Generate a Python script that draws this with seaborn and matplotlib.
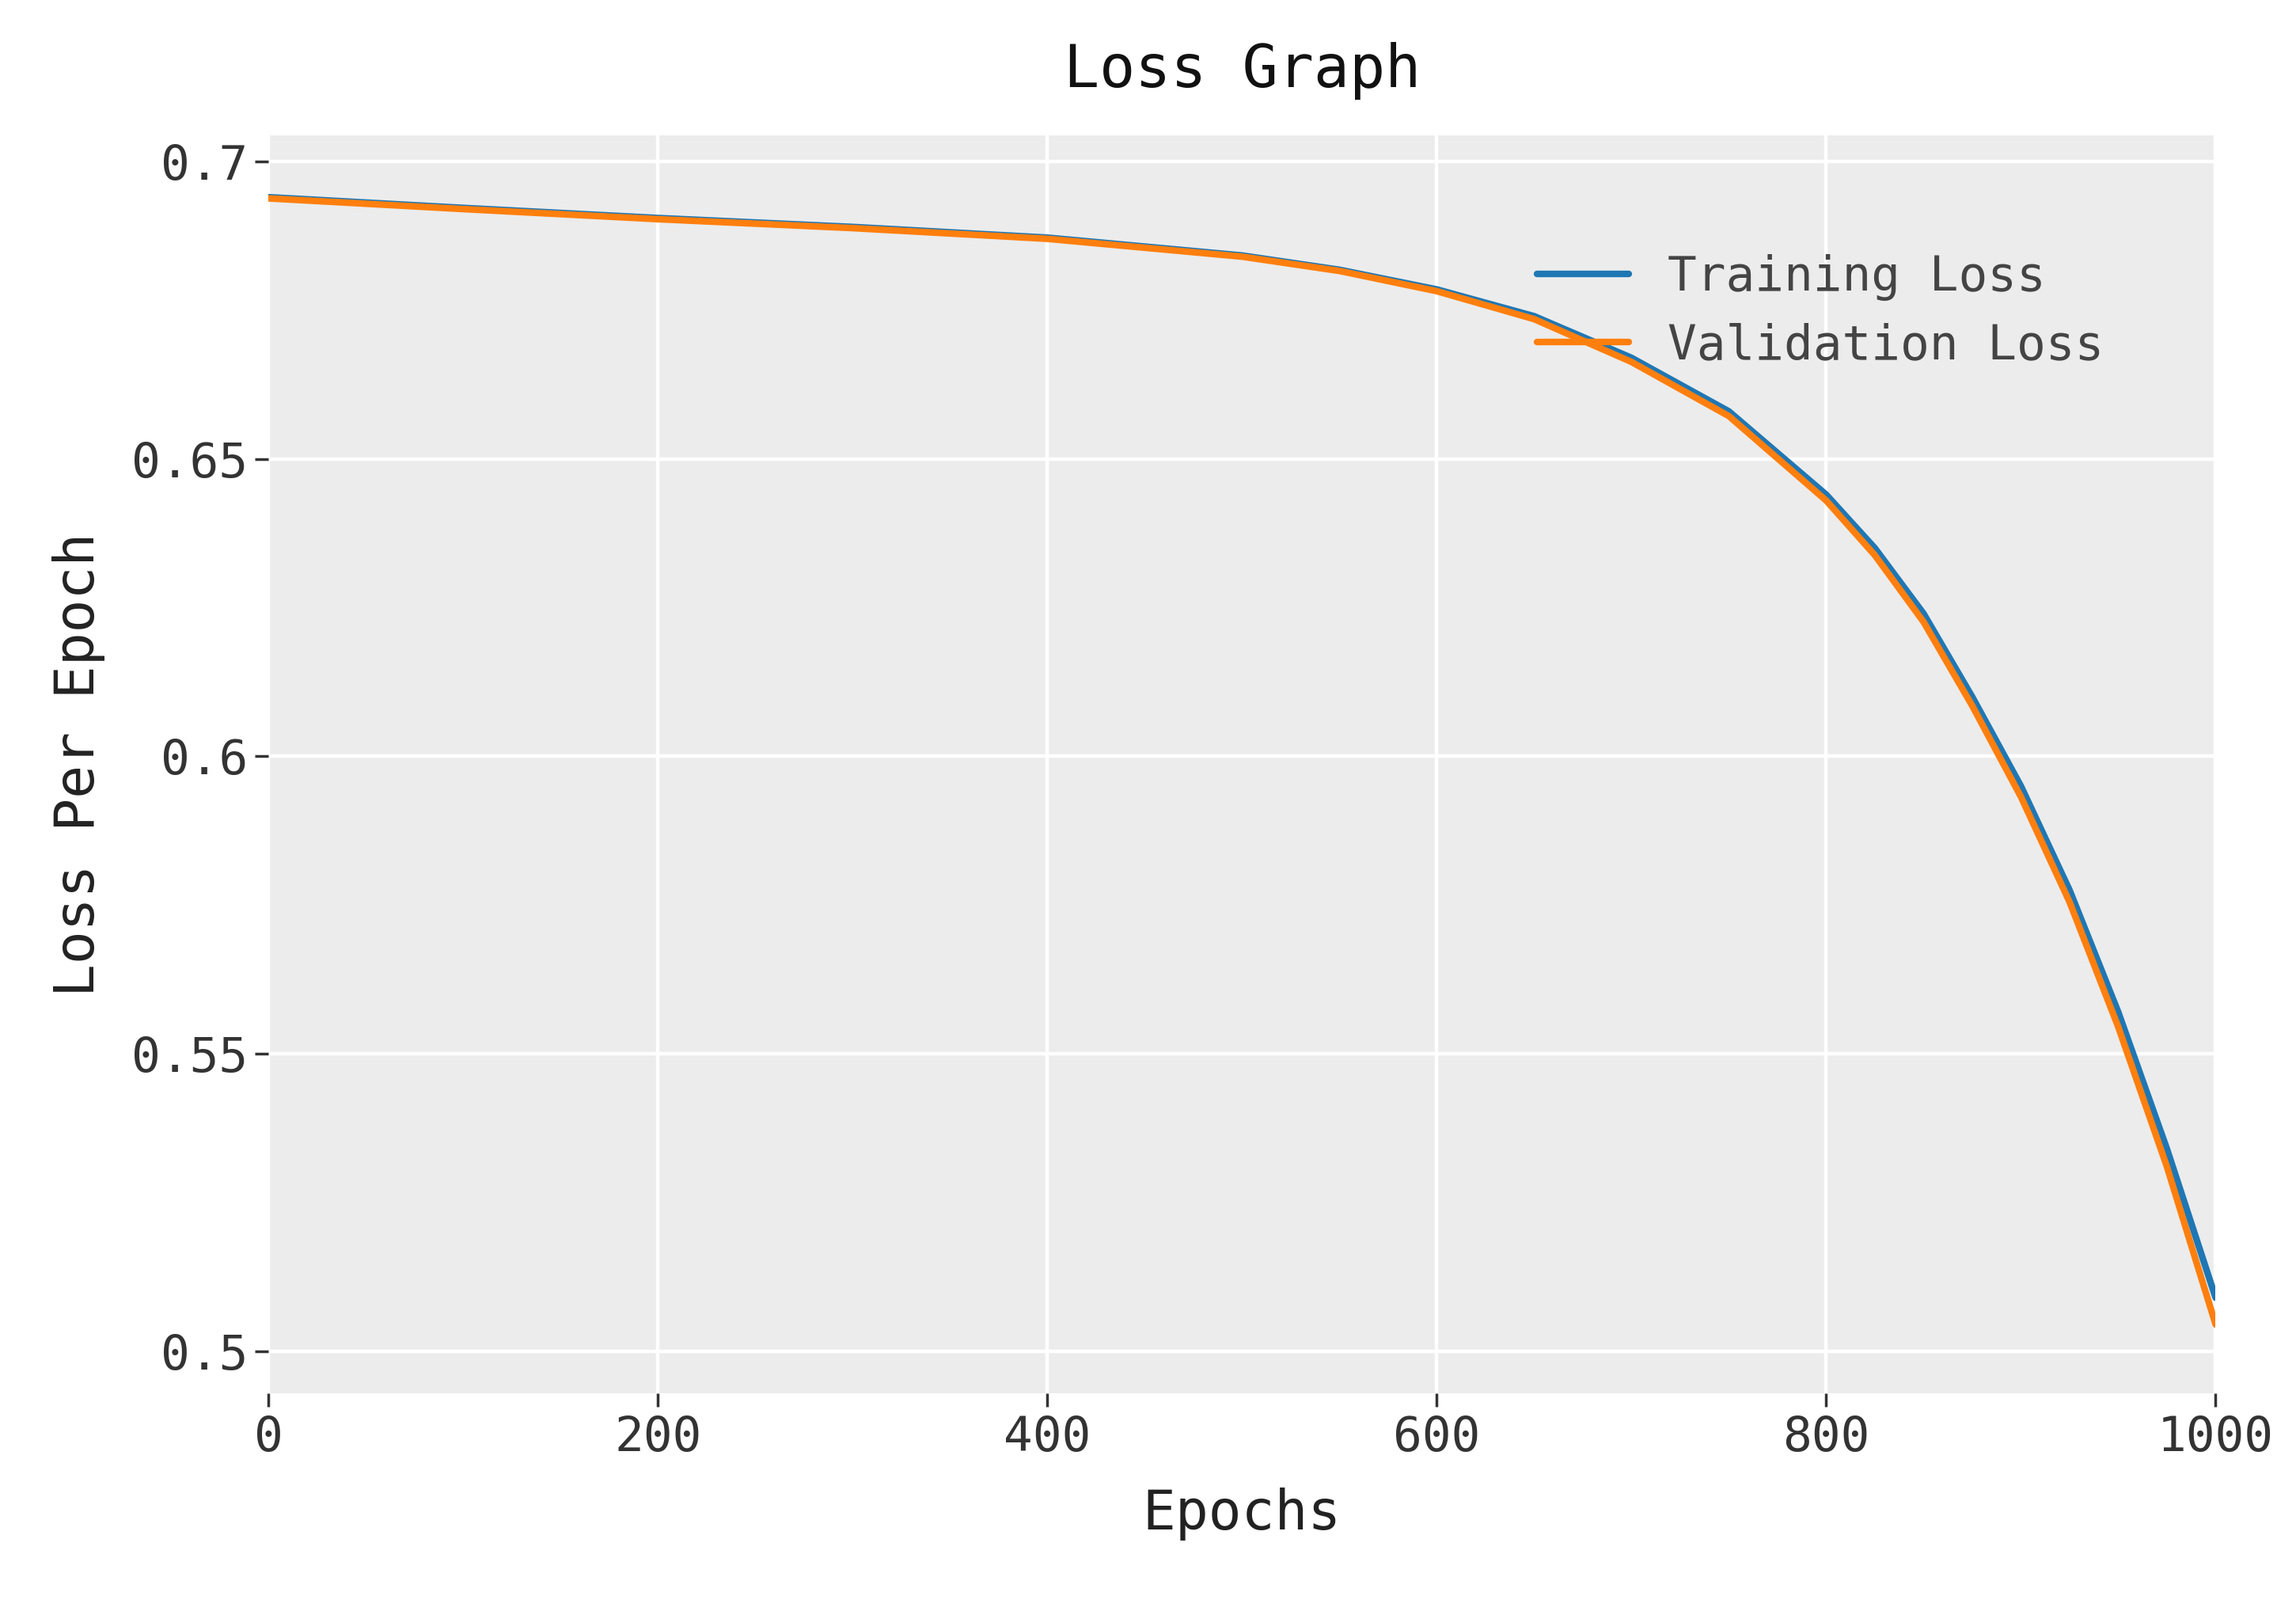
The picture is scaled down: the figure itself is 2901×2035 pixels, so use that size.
import numpy as np
import pandas as pd
import matplotlib
matplotlib.use('Agg')
import matplotlib.pyplot as plt
import seaborn as sns

# ── Data ──────────────────────────────────────────────────────────────────────
epochs     = [0, 100, 200, 300, 400, 500, 550, 600, 650, 700, 750, 800, 825, 850,
              875, 900, 925, 950, 975, 1000]
train_loss = [0.6940, 0.6922, 0.6905, 0.6890, 0.6872, 0.6842, 0.6818, 0.6785, 0.6740,
              0.6670, 0.6580, 0.6440, 0.6350, 0.6240, 0.6100, 0.5950, 0.5775, 0.5570,
              0.5340, 0.5090]
val_loss   = [0.6938, 0.6920, 0.6903, 0.6888, 0.6870, 0.6840, 0.6816, 0.6782, 0.6735,
              0.6663, 0.6572, 0.6430, 0.6338, 0.6226, 0.6085, 0.5932, 0.5755, 0.5545,
              0.5310, 0.5045]

df = pd.DataFrame({
    'Epochs': epochs * 2,
    'Loss': train_loss + val_loss,
    'Series': ['Training Loss'] * len(epochs) + ['Validation Loss'] * len(epochs),
})

# ── Style ─────────────────────────────────────────────────────────────────────
sns.set_theme(style='darkgrid', rc={
    'axes.facecolor': '#ECECEC',
    'grid.color': 'white',
    'grid.linewidth': 1.6,
    'xtick.bottom': True,
    'ytick.left': True,
    'xtick.major.size': 6,
    'ytick.major.size': 6,
    'xtick.color': '#333333',
    'ytick.color': '#333333',
})
plt.rcParams['font.family'] = ['DejaVu Sans Mono']

fig = plt.figure(figsize=(14.505, 10.175), dpi=200)
ax = fig.add_axes([0.117, 0.135, 0.848, 0.781])

sns.lineplot(data=df, x='Epochs', y='Loss', hue='Series',
             palette=['#1f77b4', '#ff7f0e'], linewidth=3, ax=ax)

ax.set_xlim(0, 1000)
ax.set_ylim(0.4929, 0.7044)
ax.set_xticks([0, 200, 400, 600, 800, 1000])
ax.set_yticks([0.5, 0.55, 0.6, 0.65, 0.7])
ax.set_yticklabels(['0.5', '0.55', '0.6', '0.65', '0.7'])
ax.tick_params(labelsize=22, colors='#333333')
ax.set_xlabel('Epochs', fontsize=25, color='#222222', labelpad=12)
ax.set_ylabel('Loss Per Epoch', fontsize=25, color='#222222', labelpad=12)
ax.set_title('Loss Graph', fontsize=27, color='#111111', pad=22)
for s in ax.spines.values():
    s.set_visible(False)

leg = ax.legend(loc='upper right', bbox_to_anchor=(0.965, 0.94), frameon=False,
                fontsize=22, handlelength=1.9, labelspacing=0.45)
for t in leg.get_texts():
    t.set_color('#444444')

fig.savefig('out.png', dpi=200)
